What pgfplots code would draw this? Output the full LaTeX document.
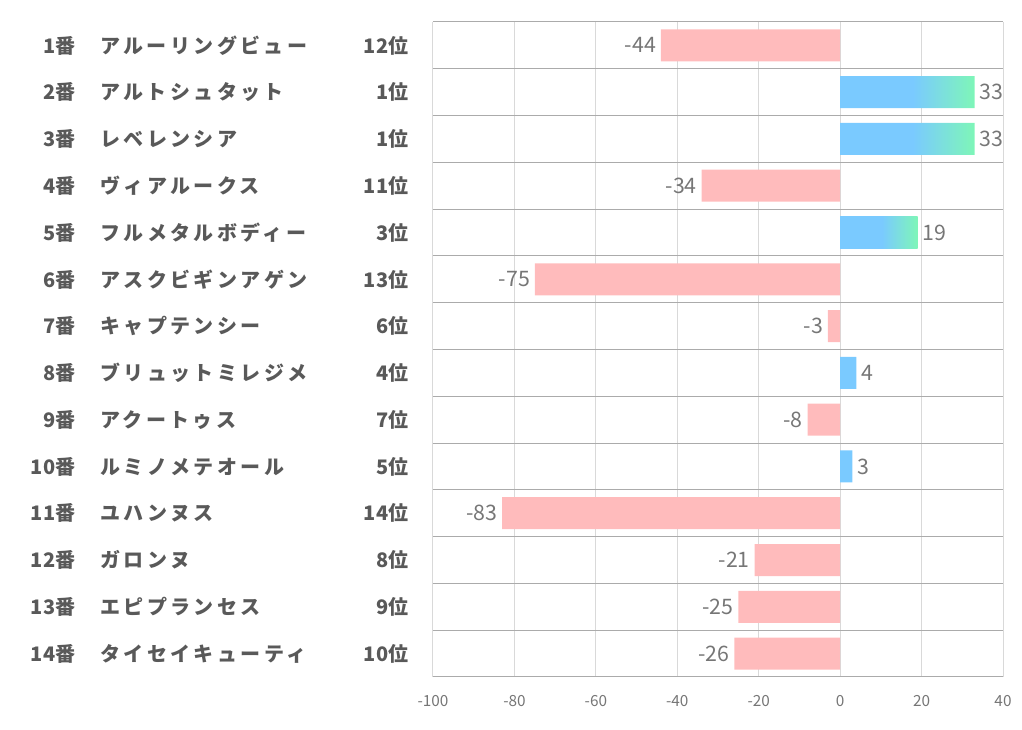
\documentclass[border=0pt]{standalone}
\usepackage{pgfplots}
\pgfplotsset{compat=1.18}
\usepackage{fontspec}
\setmainfont{Noto Sans CJK JP}
\newfontfamily\kana{Noto Sans CJK JP}[LetterSpace=17]

\definecolor{txtgray}{HTML}{595959}
\definecolor{lblgray}{HTML}{767676}
\definecolor{rowline}{HTML}{ABABAB}
\definecolor{gridline}{HTML}{D9D9D9}
\definecolor{barpink}{HTML}{FFBBBC}
\definecolor{barblue}{HTML}{7ACAFF}
\definecolor{bargreen}{HTML}{7EF6B8}
\pgfdeclarehorizontalshading{posbar}{100bp}{color(0bp)=(barblue); color(25bp)=(barblue); color(52bp)=(barblue); color(75bp)=(bargreen); color(100bp)=(bargreen)}

% number, horse name, rank
\newcommand{\lab}[3]{\makebox[36pt][r]{#1番}\hspace{18.75pt}\makebox[231pt]{{\kana #2}\hfill#3位}}

\begin{document}
\begin{tikzpicture}
\path[use as bounding box] (0,0) rectangle (766.5pt,547.5pt);
\begin{axis}[
  at={(324.75pt,39.75pt)}, anchor=south west,
  scale only axis, width=427.5pt, height=491.25pt,
  xmin=-100, xmax=40, ymin=0.5, ymax=14.5, y dir=reverse,
  xtick={-100,-80,...,40}, ytick={1,...,14},
  minor ytick={0.5,1.5,...,14.5},
  xmajorgrids, yminorgrids,
  major grid style={gridline, line width=0.75pt},
  minor grid style={rowline, line width=0.75pt},
  axis line style={draw=none},
  major tick length=0, minor tick length=0,
  /pgf/number format/assume math mode=true,
  xticklabel style={font=\fontsize{11.5}{13}\selectfont, text=lblgray, yshift=-10pt},
  yticklabels={
    \lab{1}{アルーリングビュー}{12},
    \lab{2}{アルトシュタット}{1},
    \lab{3}{レベレンシア}{1},
    \lab{4}{ヴィアルークス}{11},
    \lab{5}{フルメタルボディー}{3},
    \lab{6}{アスクビギンアゲン}{13},
    \lab{7}{キャプテンシー}{6},
    \lab{8}{ブリュットミレジメ}{4},
    \lab{9}{アクートゥス}{7},
    \lab{10}{ルミノメテオール}{5},
    \lab{11}{ユハンヌス}{14},
    \lab{12}{ガロンヌ}{8},
    \lab{13}{エピプランセス}{9},
    \lab{14}{タイセイキューティ}{10}},
  yticklabel style={font=\fontsize{15}{18}\selectfont\bfseries, text=txtgray, anchor=east, xshift=-15pt},
  bar width=24pt,
  point meta=x,
  nodes near coords,
  nodes near coords style={font=\fontsize{16}{18}\selectfont, text=lblgray, inner sep=3.5pt},
  clip=false,
]
\addplot[xbar, bar shift=0pt, draw=none, fill=barpink,
  every node near coord/.append style={anchor=east}] coordinates {
  (-44,1) (-34,4) (-75,6) (-3,7) (-8,9) (-83,11) (-21,12) (-25,13) (-26,14)};
\addplot[xbar, bar shift=0pt, draw=none, shade, shading=posbar,
  every node near coord/.append style={anchor=west}] coordinates {
  (33,2) (33,3)};
\addplot[xbar, bar shift=0pt, draw=none, shade, shading=posbar,
  every node near coord/.append style={anchor=west}] coordinates {
  (19,5)};
\addplot[xbar, bar shift=0pt, draw=none, fill=barblue,
  every node near coord/.append style={anchor=west}] coordinates {
  (4,8) (3,10)};
\end{axis}
\end{tikzpicture}
\end{document}
